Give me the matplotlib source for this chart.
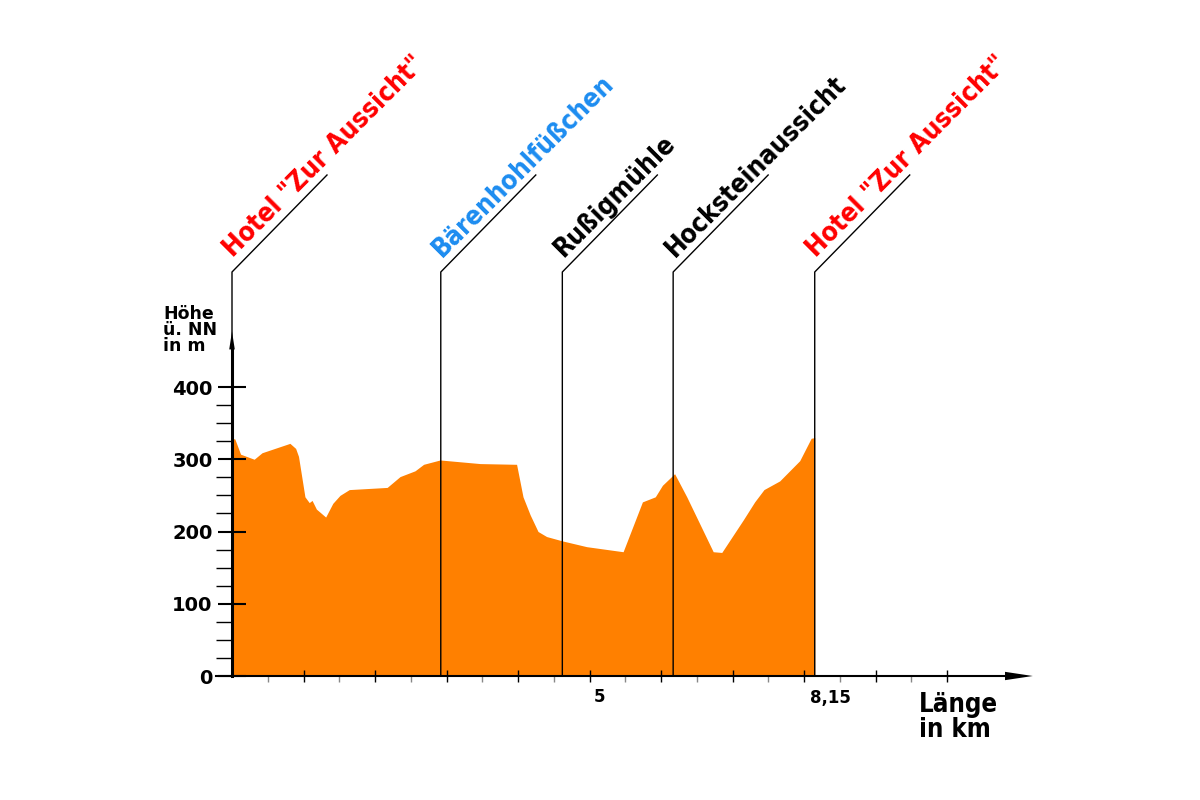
import matplotlib
matplotlib.use("Agg")
import matplotlib.pyplot as plt
from matplotlib.ticker import NullFormatter

# Höhenprofil der Wanderung (Strecke in km, Höhe in m ü. NN)
strecke_km = [0.0, 0.04, 0.12, 0.31, 0.42, 0.81, 0.89, 0.93, 1.02, 1.08, 1.12,
              1.18, 1.31, 1.41, 1.51, 1.64, 2.17, 2.35, 2.56, 2.68, 2.91, 3.47,
              3.98, 4.07, 4.17, 4.28, 4.40, 4.62, 4.96, 5.47, 5.74, 5.92, 6.02,
              6.19, 6.36, 6.73, 6.85, 7.15, 7.31, 7.44, 7.66, 7.94, 8.10, 8.15]
hoehe_m = [329, 328, 307, 300, 309, 322, 315, 304, 248, 240, 243,
           231, 220, 239, 250, 258, 261, 276, 284, 293, 299, 294,
           293, 248, 223, 200, 193, 187, 179, 172, 241, 248, 264,
           280, 248, 172, 171, 216, 241, 258, 270, 298, 329, 330]

# Wegpunkte
orte_km = [0.0, 2.92, 4.62, 6.17, 8.15]
orte_namen = ['Hotel "Zur Aussicht"', 'Bärenhohlfüßchen', 'Rußigmühle',
              'Hocksteinaussicht', 'Hotel "Zur Aussicht"']
orte_farben = ['#FF0000', '#1C8CF0', 'black', 'black', '#FF0000']

y_ticks = [0, 100, 200, 300, 400]
y_minor = [25, 50, 75, 125, 150, 175, 225, 250, 275, 325, 350, 375]
x_major = [1, 2, 3, 4, 5, 6, 7, 8, 9, 10]
x_minor = [0.5, 1.5, 2.5, 3.5, 4.5, 5.5, 6.5, 7.5, 8.5, 9.5]
x_beschriftung = ['5', '8,15']
x_beschriftung_km = [5, 8.15]

# Maßstab (Pixel je km / je m) im 1200x800 Bild
KM_PX = 71.5
M_PX = 0.7225
X0, Y0 = 232, 676

heavy = ['DejaVu Sans']

fig = plt.figure(figsize=(12, 8), dpi=100)
ax = fig.add_axes([0, 0, 1, 1])
ax.set_xlim(-X0 / KM_PX, (1200 - X0) / KM_PX)
ax.set_ylim(-(800 - Y0) / M_PX, Y0 / M_PX)

# Profil
ax.fill_between(strecke_km, hoehe_m, 0, color='#FF8000', lw=0, zorder=1)

# Achsen
for s in ['top', 'right']:
    ax.spines[s].set_visible(False)
ax.spines['left'].set_position(('data', 0))
ax.spines['bottom'].set_position(('data', 0))
ax.spines['left'].set_bounds(0, 455)
ax.spines['bottom'].set_bounds(-16 / KM_PX, 10.8)
ax.spines['left'].set_linewidth(2.2)
ax.spines['bottom'].set_linewidth(1.5)
ax.spines['left'].set_zorder(4)
ax.spines['bottom'].set_zorder(4)

ax.set_yticks(y_ticks)
ax.set_yticklabels([str(v) for v in y_ticks], fontfamily=heavy,
                   fontweight='heavy', fontsize=14)
ax.set_yticks(y_minor, minor=True)
ax.tick_params(axis='y', which='major', direction='inout', length=20,
               width=1.5, pad=4)
ax.tick_params(axis='y', which='minor', direction='out', length=11.5,
               width=1.0)

ax.set_xticks(x_major)
ax.xaxis.set_major_formatter(NullFormatter())
ax.set_xticks(x_minor, minor=True)
ax.tick_params(axis='x', which='major', direction='inout', length=8,
               width=1.0, color='black')
ax.tick_params(axis='x', which='minor', direction='out', length=4,
               width=1.0, color='#888888')

# Pfeilspitzen
ax.annotate('', xy=(11.2, 0), xytext=(10.75, 0),
            arrowprops=dict(width=0.1, headwidth=6, headlength=20,
                            color='black', lw=0), zorder=5)
ax.annotate('', xy=(0, 477), xytext=(0, 450),
            arrowprops=dict(width=0.1, headwidth=4, headlength=13,
                            color='black', lw=0), zorder=5)

# Wegpunkt-Linien und Beschriftungen
top_m = (Y0 - 272) / M_PX
for km, name, farbe in zip(orte_km, orte_namen, orte_farben):
    ax.plot([km, km, km + 95 / KM_PX], [0, top_m, top_m + 97 / M_PX],
            color='black', lw=1.0, zorder=3)
    ax.annotate(name, xy=(km, top_m), xytext=(1, 10),
                textcoords='offset points', rotation=45,
                rotation_mode='anchor', ha='left', va='baseline',
                color=farbe, fontfamily='DejaVu Sans', fontstretch='condensed',
                fontweight='bold', fontsize=19)

# Achsenbeschriftungen
ax.text(-69 / KM_PX, (Y0 - 351) / M_PX, 'Höhe\nü. NN\nin m',
        fontfamily=heavy, fontweight='heavy', fontsize=12.5,
        linespacing=0.85, ha='left', va='baseline')
for km, txt, dx in zip(x_beschriftung_km, x_beschriftung, [7, 11]):
    ax.annotate(txt, xy=(km, 0), xytext=(dx, -9),
                textcoords='offset points', ha='center', va='top',
                fontfamily=heavy, fontweight='heavy', fontsize=12)
ax.text((919 - X0) / KM_PX, (Y0 - 737) / M_PX, 'Länge\nin km',
        fontfamily='DejaVu Sans', fontstretch='condensed', fontweight='bold',
        fontsize=18.5, linespacing=0.95, ha='left', va='baseline')

fig.savefig('out.png', dpi=100, facecolor='white')
